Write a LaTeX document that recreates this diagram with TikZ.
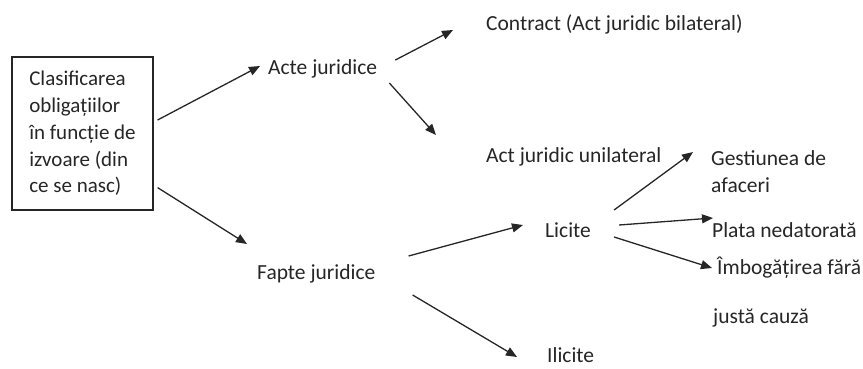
\documentclass[tikz,border=0pt]{standalone}
\usepackage{fontspec}
\setmainfont{Carlito}
\usetikzlibrary{arrows.meta,calc}
\definecolor{ink}{HTML}{262626}
\begin{document}
\begin{tikzpicture}[x=1pt,y=-1pt,
  lbl/.style={anchor=west,inner sep=0pt,text=ink,font=\fontsize{21.5}{27}\selectfont,align=left},
  conn/.style={draw=ink,line width=1.3pt,-{Triangle[length=11pt,width=9pt]}}]
\useasboundingbox (0,0) rectangle (863,368);
\node[draw=ink,line width=1.2pt,minimum width=141pt,minimum height=153pt,inner sep=0pt,
  text=ink,font=\fontsize{21}{26.7}\selectfont,align=left] (box) at (82.5,133.5)
  {Clasificarea\\obligațiilor\\în funcție de\\izvoare (din\\ce se nasc)};
\node[lbl] (acte) at (268,69) {Acte juridice};
\node[lbl] (contract) at (486,24) {Contract (Act juridic bilateral)};
\node[lbl] (unil) at (486,157) {Act juridic unilateral};
\node[lbl] (fapte) at (257,274) {Fapte juridice};
\node[lbl] (licite) at (545,230) {Licite};
\node[lbl] (ilicite) at (547,355) {Ilicite};
\node[lbl] (gest) at (711,171.5) {Gestiunea de\\afaceri};
\node[lbl] (plata) at (712,230) {Plata nedatorată};
\node[lbl,font=\fontsize{21.5}{49}\selectfont] (imbog) at (713,292.5) {\hspace{4pt}Îmbogățirea fără\\justă cauză};
\draw[conn] ($(box.east)+(4,-13.5)$) -- ($(acte.west)+(-8,-3)$);
\draw[conn] ($(box.south east)+(4,-23)$) -- ($(fapte.west)+(-10,-30)$);
\draw[conn] ($(acte.east)+(18,-9)$) -- ($(contract.west)+(-33,6)$);
\draw[conn] ($(acte.east)+(12,14)$) -- ($(unil.west)+(-50,-22)$);
\draw[conn] ($(fapte.east)+(33,-18)$) -- ($(licite.west)+(-22,-5)$);
\draw[conn] ($(fapte.east)+(37,21)$) -- ($(ilicite.west)+(-30,2)$);
\draw[conn] ($(licite.east)+(23,-20)$) -- ($(gest.west)+(-18,-19.5)$);
\draw[conn] ($(licite.east)+(28,-5)$) -- ($(plata.west)+(1,-12)$);
\draw[conn] ($(licite.east)+(23,7)$) -- ($(imbog.west)+(-1,-24.5)$);
\end{tikzpicture}
\end{document}
